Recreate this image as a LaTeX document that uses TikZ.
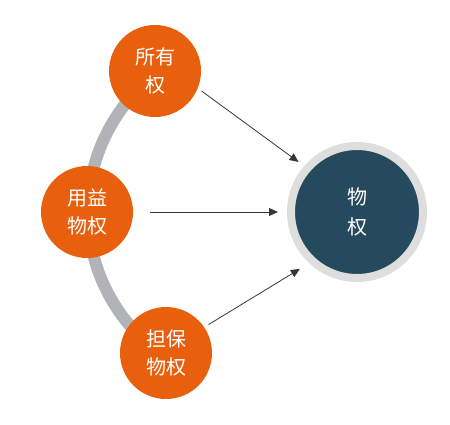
\documentclass[tikz,border=0pt]{standalone}
\usepackage{fontspec}
\newfontfamily\cjk{Noto Sans CJK SC}
\usetikzlibrary{arrows.meta}
\definecolor{quanorange}{RGB}{232,96,14}
\definecolor{quanblue}{RGB}{37,74,94}
\definecolor{ringgray}{RGB}{222,222,222}
\definecolor{arcgray}{RGB}{178,179,183}
\definecolor{arrowgray}{RGB}{55,55,55}

\begin{document}
\begin{tikzpicture}[x=1pt,y=-1pt,
  kind/.style={circle,fill=quanorange,minimum size=92pt,inner sep=0pt,
    text=white,align=center,font=\cjk\fontsize{20}{28}\selectfont},
  whole/.style={circle,fill=quanblue,draw=ringgray,line width=8pt,
    minimum size=132pt,inner sep=0pt,text=white,align=center,
    font=\cjk\fontsize{20}{30}\selectfont},
  link/.style={-{Triangle[length=9pt,width=8pt]},line width=0.8pt,arrowgray}]
  \useasboundingbox (0,0) rectangle (450,425);
  % Gray arc behind
  \draw[arcgray,line width=12pt] (263,212) ++(233:175)
    arc[start angle=233,end angle=125,radius=175];
  % Kinds of rights
  \node[kind] (suoyou) at (155,71) {所有\\权};
  \node[kind] (yongyi) at (87,212) {用益\\物权};
  \node[kind] (danbao) at (166,353) {担保\\物权};
  % Property right
  \node[whole] (wuquan) at (357,212) {物\\权};
  % Arrows
  \draw[link,shorten <=5pt,shorten >=7pt] (suoyou.-22) -- (wuquan.139);
  \draw[link,shorten <=17pt,shorten >=9pt] (yongyi.east) -- (wuquan.west);
  \draw[link,shorten <=5pt,shorten >=11pt] (danbao.34) -- (wuquan.227);
\end{tikzpicture}
\end{document}
